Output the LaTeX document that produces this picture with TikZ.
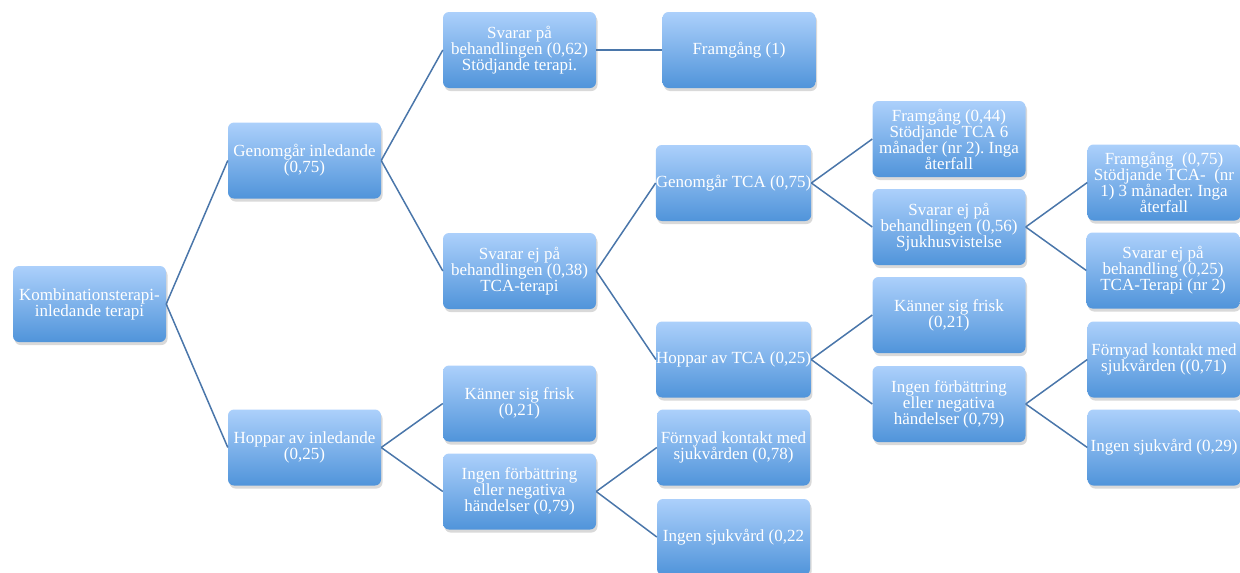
\documentclass[tikz,border=0pt]{standalone}
\usepackage{fontspec}
\setmainfont{Liberation Serif}
\usetikzlibrary{shadows,positioning}

\definecolor{boxtop}{RGB}{172,208,251}
\definecolor{boxbot}{RGB}{80,148,218}
\definecolor{linkcol}{RGB}{74,118,170}

\begin{document}
\frenchspacing
\begin{tikzpicture}[x=1pt,y=-1pt,
  box/.style={rounded corners=6pt,minimum width=153pt,minimum height=76pt,
    inner xsep=0pt,inner ysep=2pt,align=center,text=white,
    top color=boxtop,bottom color=boxbot,draw=none,
    drop shadow={shadow xshift=1.5pt,shadow yshift=-3pt,opacity=.3},
    font=\fontsize{17}{16}\selectfont},
  link/.style={draw=linkcol,line width=1.5pt}]
  \useasboundingbox (0,0) rectangle (1240,573);
  \clip (0,0) rectangle (1240,573);
  % first level
  \node[box] (root) at (89.5,304) {Kombinationsterapi-\\inledande terapi};
  \node[box] (gi) at (304.5,160.5) {Genomgår inledande\\(0,75)};
  \node[box] (hi) at (304.5,447.5) {Hoppar av inledande\\(0,25)};
  % second level
  \node[box] (sp) at (519.5,50) {Svarar på\\behandlingen (0,62)\\Stödjande terapi.};
  \node[box] (sej) at (519.5,271) {Svarar ej på\\behandlingen (0,38)\\TCA-terapi};
  \node[box] (kf1) at (519.5,403.5) {Känner sig frisk\\(0,21)};
  \node[box] (if1) at (519.5,491.5) {Ingen förbättring\\eller negativa\\händelser (0,79)};
  % third level
  \node[box] (fr1) at (739,50) {Framgång (1)};
  \node[box] (gtca) at (733.5,183) {Genomgår TCA (0,75)};
  \node[box] (htca) at (733.5,359.5) {Hoppar av TCA (0,25)};
  \node[box] (fk1) at (733.5,447.5) {Förnyad kontakt med\\sjukvården (0,78)};
  \node[box] (is1) at (733.5,537) {Ingen sjukvård (0,22};
  % fourth level
  \node[box] (fr44) at (949,139) {Framgång (0,44)\\Stödjande TCA 6\\månader (nr 2). Inga\\återfall};
  \node[box] (sej56) at (949,227) {Svarar ej på\\behandlingen (0,56)\\Sjukhusvistelse};
  \node[box] (kf2) at (949,315) {Känner sig frisk\\(0,21)};
  \node[box] (if2) at (949,404) {Ingen förbättring\\eller negativa\\händelser (0,79)};
  % fifth level
  \node[box] (fr75) at (1164,182.5) {Framgång\ \ (0,75)\\Stödjande TCA-\ \ (nr\\1) 3 månader. Inga\\återfall};
  \node[box] (sej25) at (1163,270.5) {Svarar ej på\\behandling (0,25)\\TCA-Terapi (nr 2)};
  \node[box] (fk2) at (1164,359.5) {Förnyad kontakt med\\sjukvården ((0,71)};
  \node[box] (is2) at (1164,447.5) {Ingen sjukvård (0,29)};
  % connectors
  \draw[link] (root.east) -- (gi.west);
  \draw[link] (root.east) -- (hi.west);
  \draw[link] (gi.east) -- (sp.west);
  \draw[link] (gi.east) -- (sej.west);
  \draw[link] (hi.east) -- (kf1.west);
  \draw[link] (hi.east) -- (if1.west);
  \draw[link] (sp.east) -- (fr1.west);
  \draw[link] (sej.east) -- (gtca.west);
  \draw[link] (sej.east) -- (htca.west);
  \draw[link] (if1.east) -- (fk1.west);
  \draw[link] (if1.east) -- (is1.west);
  \draw[link] (gtca.east) -- (fr44.west);
  \draw[link] (gtca.east) -- (sej56.west);
  \draw[link] (htca.east) -- (kf2.west);
  \draw[link] (htca.east) -- (if2.west);
  \draw[link] (sej56.east) -- (fr75.west);
  \draw[link] (sej56.east) -- (sej25.west);
  \draw[link] (if2.east) -- (fk2.west);
  \draw[link] (if2.east) -- (is2.west);
\end{tikzpicture}
\end{document}
